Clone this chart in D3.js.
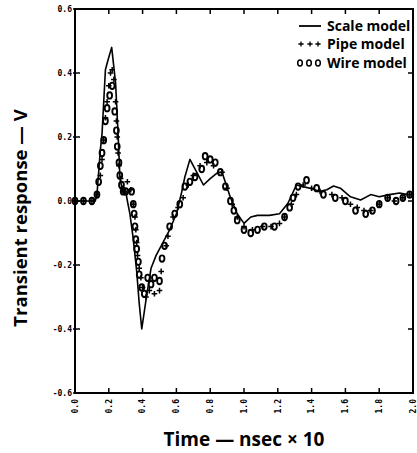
<!DOCTYPE html>
<html><head><meta charset="utf-8">
<script src="https://cdn.jsdelivr.net/npm/d3@7"></script>
<style>body{margin:0;background:#fff}svg{display:block}</style>
</head><body>
<script>
const xTicks = [0.0,0.2,0.4,0.6,0.8,1.0,1.2,1.4,1.6,1.8,2.0];
const yTicks = [0.6,0.4,0.2,0.0,-0.2,-0.4,-0.6];
const seriesNames = ["Scale model","Pipe model","Wire model"];

const scaleX = [0.00,0.12,0.13,0.15,0.16,0.17,0.18,0.195,0.217,0.24,0.255,0.266,0.285,0.30,0.31,0.325,0.345,0.365,0.38,0.395,0.42,0.45,0.48,0.51,0.56,0.60,0.63,0.65,0.68,0.72,0.76,0.80,0.84,0.87,0.92,0.96,1.00,1.04,1.08,1.15,1.21,1.26,1.31,1.35,1.39,1.45,1.49,1.53,1.57,1.63,1.69,1.75,1.80,1.86,1.92,1.97,2.00];
const scaleY = [0.00,0.00,0.02,0.16,0.21,0.31,0.41,0.44,0.48,0.37,0.21,0.07,0.025,0.03,0.00,-0.04,-0.12,-0.22,-0.32,-0.40,-0.31,-0.21,-0.17,-0.14,-0.09,-0.04,0.025,0.075,0.13,0.09,0.05,0.07,0.087,0.09,0.01,-0.04,-0.07,-0.05,-0.045,-0.045,-0.04,-0.007,0.05,0.045,0.04,0.03,0.035,0.047,0.04,0.013,0.003,0.02,0.013,0.02,0.025,0.02,0.02];

const pipeX = [0.00,0.05,0.10,0.13,0.15,0.16,0.17,0.18,0.19,0.20,0.21,0.22,0.23,0.24,0.245,0.25,0.255,0.26,0.27,0.28,0.29,0.31,0.33,0.345,0.355,0.36,0.365,0.37,0.38,0.39,0.40,0.42,0.44,0.47,0.50,0.51,0.54,0.55,0.58,0.61,0.64,0.67,0.70,0.74,0.78,0.82,0.87,0.90,0.93,0.96,1.00,1.05,1.11,1.16,1.21,1.24,1.28,1.31,1.35,1.40,1.45,1.52,1.58,1.63,1.67,1.71,1.75,1.80,1.85,1.89,1.94,1.98];
const pipeY = [0.00,0.00,0.00,0.02,0.08,0.13,0.19,0.26,0.31,0.36,0.40,0.41,0.38,0.31,0.25,0.20,0.15,0.11,0.07,0.04,0.03,0.06,0.035,-0.01,-0.05,-0.09,-0.13,-0.17,-0.21,-0.24,-0.27,-0.30,-0.28,-0.29,-0.28,-0.22,-0.14,-0.11,-0.05,-0.02,0.01,0.05,0.08,0.11,0.12,0.11,0.09,0.04,-0.01,-0.05,-0.08,-0.09,-0.08,-0.08,-0.07,-0.05,-0.01,0.02,0.05,0.04,0.03,0.02,0.01,-0.01,-0.02,-0.03,-0.03,-0.01,0.01,0.00,0.01,0.02];

const wireX = [0.00,0.05,0.10,0.13,0.14,0.15,0.16,0.17,0.18,0.19,0.205,0.22,0.235,0.245,0.25,0.26,0.265,0.275,0.285,0.30,0.335,0.345,0.35,0.355,0.36,0.365,0.375,0.38,0.395,0.41,0.43,0.45,0.47,0.50,0.515,0.53,0.56,0.59,0.62,0.65,0.68,0.71,0.75,0.77,0.80,0.83,0.86,0.89,0.92,0.94,0.96,1.00,1.04,1.08,1.12,1.18,1.24,1.27,1.29,1.32,1.37,1.43,1.47,1.54,1.60,1.66,1.72,1.76,1.80,1.85,1.90,1.94,1.98];
const wireY = [0.00,0.00,0.00,0.02,0.06,0.11,0.15,0.19,0.25,0.29,0.33,0.36,0.28,0.22,0.17,0.12,0.08,0.05,0.03,0.03,0.03,-0.01,-0.04,-0.08,-0.12,-0.15,-0.19,-0.23,-0.27,-0.29,-0.24,-0.26,-0.24,-0.25,-0.18,-0.14,-0.08,-0.04,-0.01,0.045,0.06,0.075,0.10,0.14,0.13,0.12,0.09,0.045,0.00,-0.03,-0.06,-0.09,-0.10,-0.09,-0.08,-0.08,-0.05,-0.02,0.01,0.045,0.065,0.04,0.02,0.01,0.00,-0.03,-0.04,-0.03,-0.01,0.01,0.00,0.01,0.02];

const W = 417, H = 453;
const m = {left:75, top:9, right:413, bottom:393};
const svg = d3.select("body").append("svg").attr("width",W).attr("height",H);
const x = d3.scaleLinear().domain([0,2]).range([m.left,m.right]);
const y = d3.scaleLinear().domain([-0.6,0.6]).range([m.bottom,m.top]);

svg.append("rect").attr("x",m.left).attr("y",m.top).attr("width",m.right-m.left).attr("height",m.bottom-m.top)
  .attr("fill","none").attr("stroke","#000").attr("stroke-width",2);

const tl = 5;
const g = svg.append("g").attr("stroke","#000").attr("stroke-width",1.5);
xTicks.forEach(t=>{
  g.append("line").attr("x1",x(t)).attr("x2",x(t)).attr("y1",m.bottom).attr("y2",m.bottom-tl);
  g.append("line").attr("x1",x(t)).attr("x2",x(t)).attr("y1",m.top).attr("y2",m.top+tl);
});
yTicks.forEach(t=>{
  g.append("line").attr("x1",m.left-2).attr("x2",m.left+tl).attr("y1",y(t)).attr("y2",y(t));
  g.append("line").attr("x1",m.right).attr("x2",m.right-tl).attr("y1",y(t)).attr("y2",y(t));
});

const lblFont = "'DejaVu Sans Mono', monospace";
svg.append("g").selectAll("text").data(yTicks).join("text")
  .attr("x",m.left-3).attr("y",d=>y(d)).attr("dy","0.35em")
  .attr("text-anchor","end").attr("font-family",lblFont).attr("font-weight","bold").attr("font-size",8)
  .text(d=>d3.format(".1f")(d).replace("−","-"));
svg.append("g").selectAll("text").data(xTicks).join("text")
  .attr("transform",d=>`translate(${x(d)},${m.bottom+6}) rotate(-90)`).attr("dy","0.35em")
  .attr("text-anchor","end").attr("font-family",lblFont).attr("font-weight","bold").attr("font-size",8)
  .text(d=>d3.format(".1f")(d));

const titleFont = "'Open Sans', sans-serif";
svg.append("text").attr("transform",`translate(27,218) rotate(-90)`)
  .attr("text-anchor","middle").attr("font-family",titleFont).attr("font-weight","bold").attr("font-size",18.5)
  .text("Transient response — V");
svg.append("text").attr("x",244).attr("y",446)
  .attr("text-anchor","middle").attr("font-family",titleFont).attr("font-weight","bold").attr("font-size",19)
  .text("Time — nsec × 10");

const scaleData = scaleX.map((v,i)=>[v,scaleY[i]]);
svg.append("path").datum(scaleData)
  .attr("d",d3.line().x(d=>x(d[0])).y(d=>y(d[1])))
  .attr("fill","none").attr("stroke","#000").attr("stroke-width",1.6).attr("stroke-linejoin","round");

const pipeData = pipeX.map((v,i)=>[v,pipeY[i]]);
const plus = s=>`M${-s},0H${s}M0,${-s}V${s}`;
svg.append("g").selectAll("path").data(pipeData).join("path")
  .attr("transform",d=>`translate(${x(d[0])},${y(d[1])})`)
  .attr("d",plus(2.8)).attr("stroke","#000").attr("stroke-width",1.5).attr("fill","none");

const wireData = wireX.map((v,i)=>[v,wireY[i]]);
svg.append("g").selectAll("ellipse").data(wireData).join("ellipse")
  .attr("cx",d=>x(d[0])).attr("cy",d=>y(d[1])).attr("rx",2.4).attr("ry",3.2)
  .attr("fill","none").attr("stroke","#000").attr("stroke-width",1.9);

const lg = svg.append("g");
const lx = 327, ly = [26,44,63];
lg.append("line").attr("x1",299).attr("x2",321).attr("y1",ly[0]).attr("y2",ly[0]).attr("stroke","#000").attr("stroke-width",1.8);
[301,310,318].forEach(px=>lg.append("path").attr("transform",`translate(${px},${ly[1]})`).attr("d",plus(2.6)).attr("stroke","#000").attr("stroke-width",1.3));
[300,309,318].forEach(px=>lg.append("ellipse").attr("cx",px).attr("cy",ly[2]).attr("rx",2.3).attr("ry",3).attr("fill","none").attr("stroke","#000").attr("stroke-width",1.5));
lg.selectAll("text").data(seriesNames).join("text")
  .attr("x",lx).attr("y",(d,i)=>ly[i]).attr("dy","0.35em")
  .attr("font-family",titleFont).attr("font-weight","bold").attr("font-size",14)
  .text(d=>d);
</script>
</body></html>
